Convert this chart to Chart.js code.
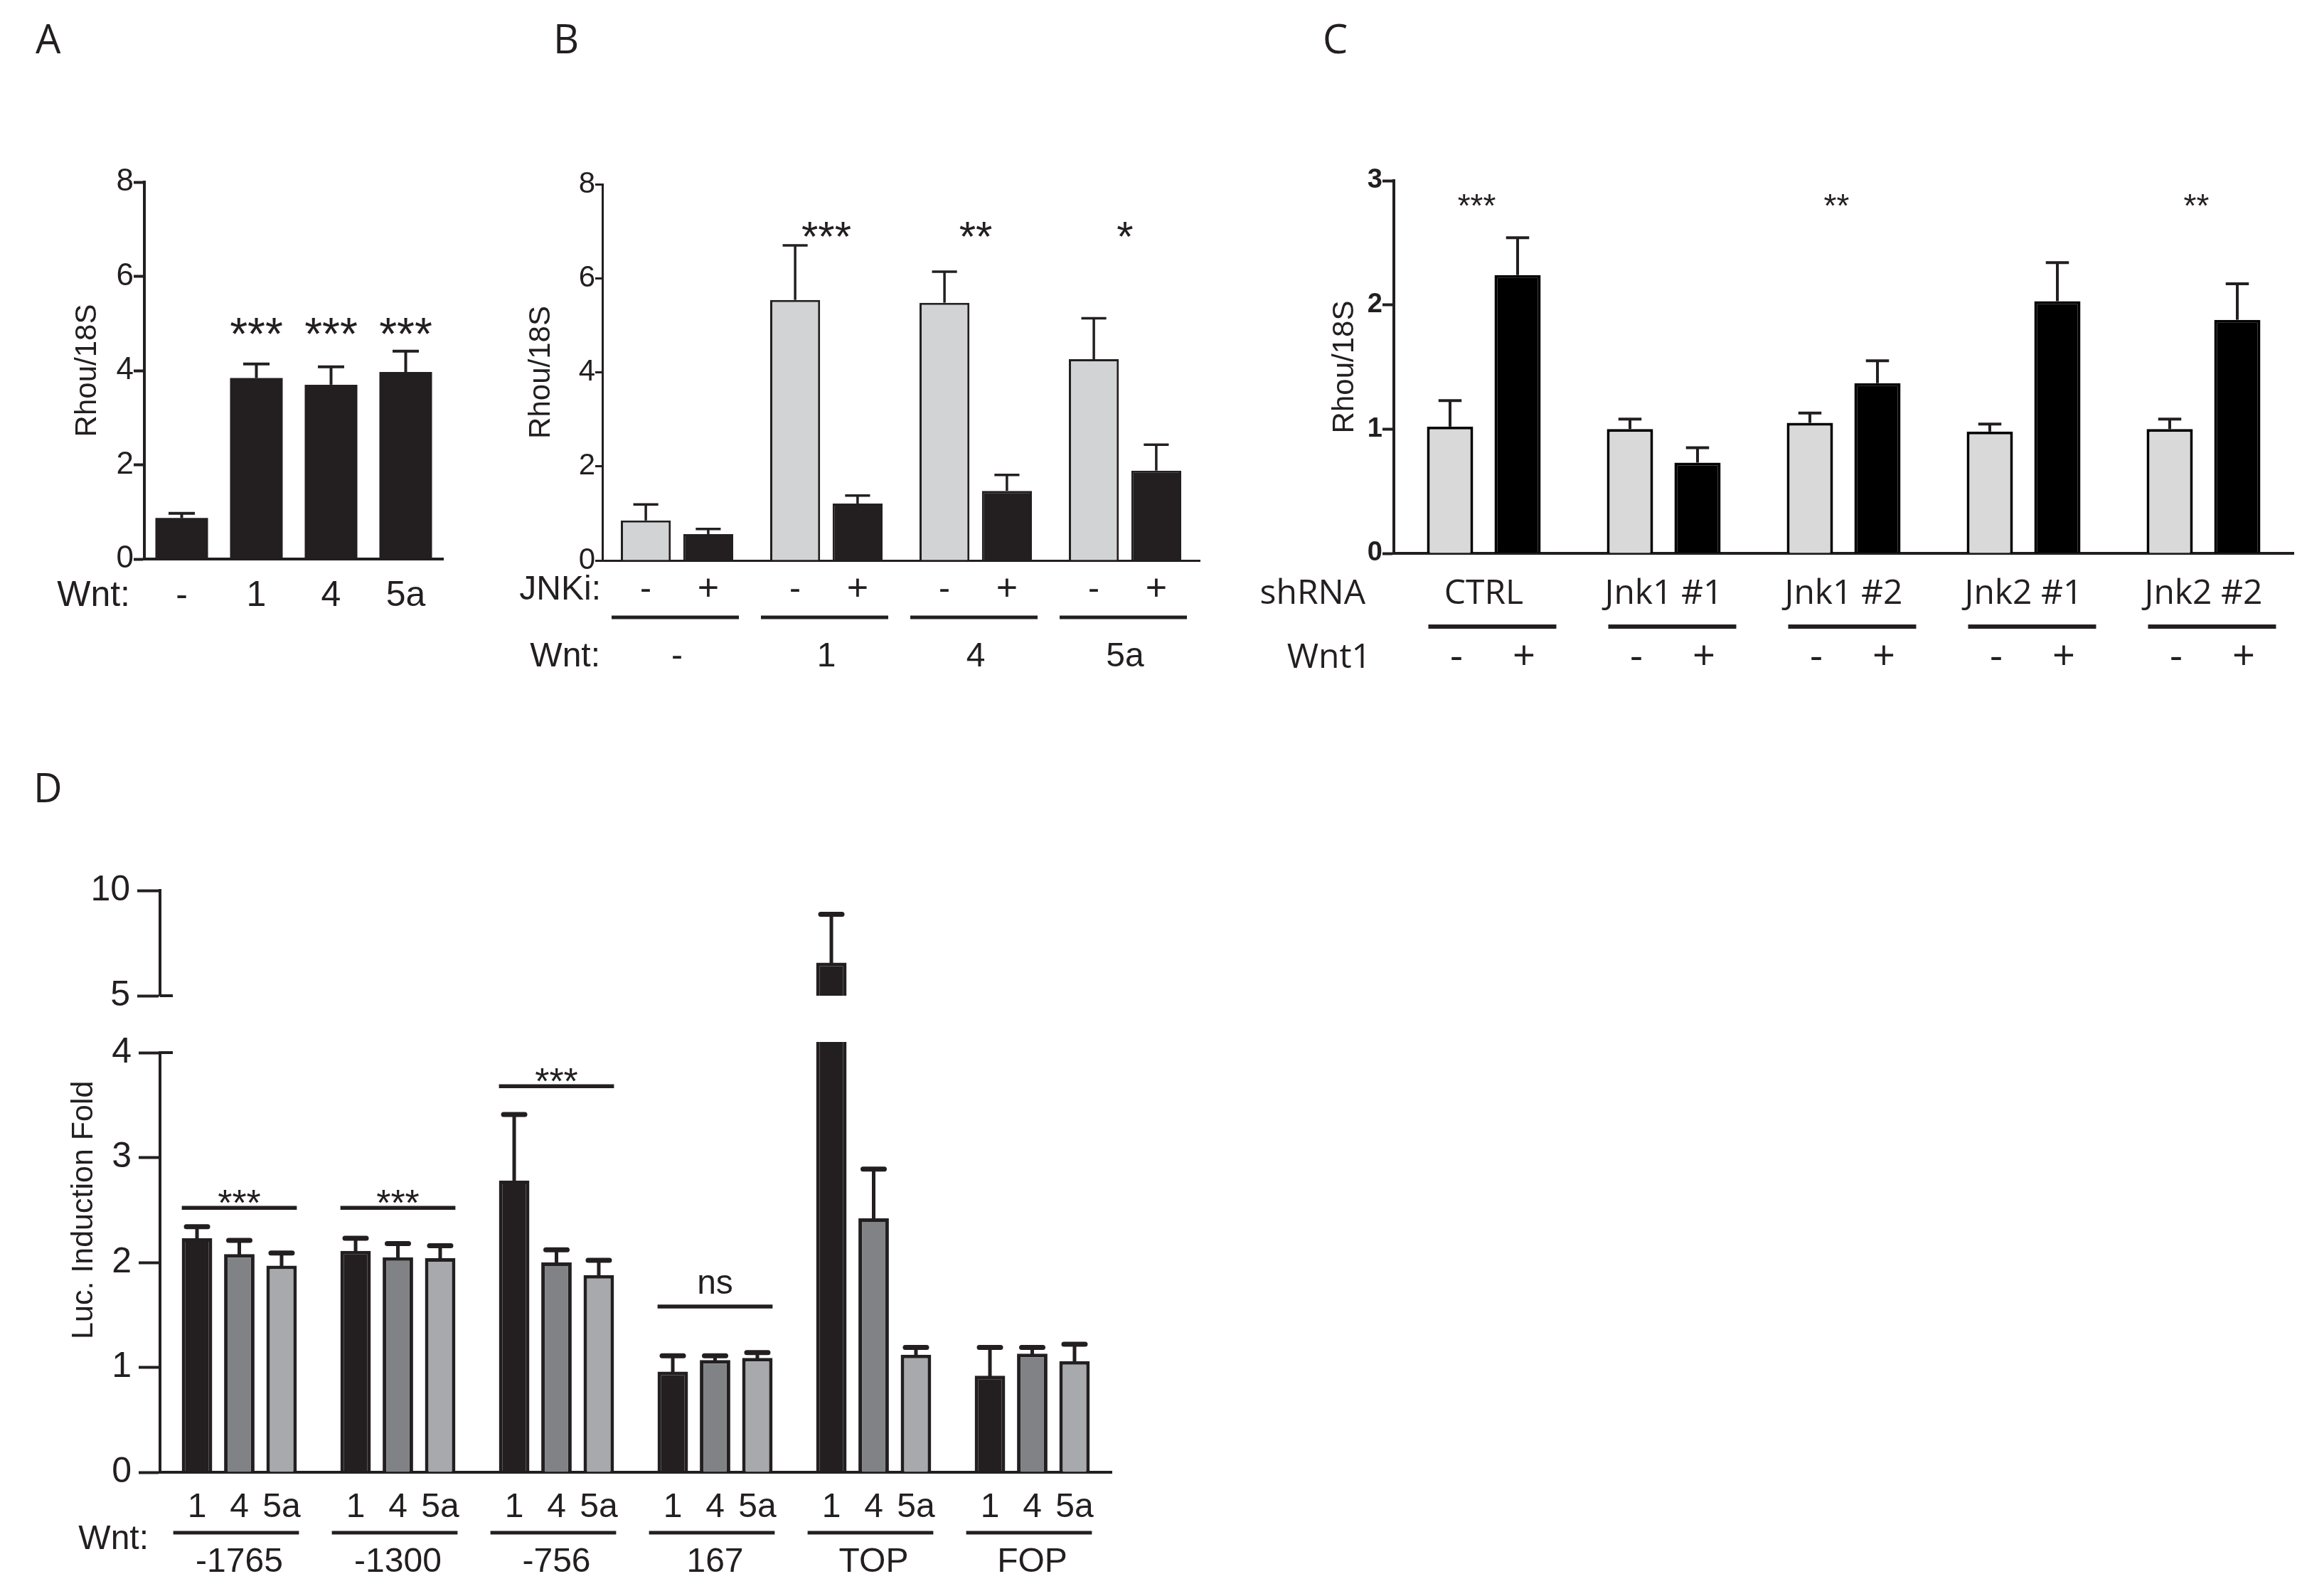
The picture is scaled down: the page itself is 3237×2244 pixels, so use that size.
<!DOCTYPE html>
<html>
<head>
<meta charset="utf-8">
<script src="https://cdn.jsdelivr.net/npm/chart.js@4.4.1/dist/chart.umd.min.js"></script>
<style>
body { margin: 0; background: #fff; width: 3237px; height: 2244px; position: relative; overflow: hidden; }
canvas { position: absolute; }
.tag { position: absolute; font-family: "Open Sans", sans-serif; font-size: 56px; line-height: 1; color: #231f20; }
</style>
</head>
<body>
<div class="tag" style="left:50px;top:25px">A</div>
<div class="tag" style="left:778px;top:25px">B</div>
<div class="tag" style="left:1860px;top:25px">C</div>
<div class="tag" style="left:47px;top:1078px">D</div>
<canvas id="chartA"></canvas>
<canvas id="chartB"></canvas>
<canvas id="chartC"></canvas>
<canvas id="chartDtop"></canvas>
<canvas id="chartD"></canvas>
<script>
// ---- panel A: Rhou/18S with Wnt ----
var wntA = ["-", "1", "4", "5a"];
var rhouA = [0.87, 3.84, 3.70, 3.97];
var rhouAErr = [0.10, 0.30, 0.38, 0.44];
var starsA = ["", "***", "***", "***"];

// ---- panel B: Wnt x JNK inhibitor ----
var wntB = ["-", "1", "4", "5a"];
var jnkiB = ["-", "+"];
var rhouBNoInh = [0.85, 5.54, 5.48, 4.28];
var rhouBNoInhErr = [0.34, 1.16, 0.66, 0.87];
var rhouBInh = [0.56, 1.21, 1.48, 1.91];
var rhouBInhErr = [0.11, 0.17, 0.34, 0.55];
var starsB = ["", "***", "**", "*"];

// ---- panel C: shRNA knockdowns ----
var shrnaC = ["CTRL", "Jnk1 #1", "Jnk1 #2", "Jnk2 #1", "Jnk2 #2"];
var wnt1C = ["-", "+"];
var rhouCNoWnt = [1.02, 1.00, 1.05, 0.98, 1.00];
var rhouCNoWntErr = [0.21, 0.08, 0.08, 0.06, 0.08];
var rhouCWnt1 = [2.24, 0.73, 1.37, 2.03, 1.88];
var rhouCWnt1Err = [0.30, 0.12, 0.18, 0.31, 0.29];
var starsC = ["***", "", "**", "", "**"];

// ---- panel D: luciferase reporters ----
var promD = ["-1765", "-1300", "-756", "167", "TOP", "FOP"];
var wntD = ["1", "4", "5a"];
var lucWnt1 = [2.23, 2.11, 2.78, 0.96, 6.57, 0.92];
var lucWnt1Err = [0.11, 0.12, 0.63, 0.15, 2.30, 0.27];
var lucWnt4 = [2.08, 2.05, 2.00, 1.07, 2.42, 1.13];
var lucWnt4Err = [0.13, 0.13, 0.12, 0.04, 0.47, 0.06];
var lucWnt5a = [1.97, 2.04, 1.88, 1.09, 1.12, 1.06];
var lucWnt5aErr = [0.12, 0.12, 0.14, 0.05, 0.07, 0.16];
var sigD = ["***", "***", "***", "ns", "", ""];
var sigLevelD = [2.52, 2.52, 3.68, 1.58, null, null];

var INK = "#231f20";
var ARIAL = "'Liberation Sans', Arial, sans-serif";
var MYRIAD = "'Open Sans', sans-serif";

// error bars (upper half only), drawn from the y scale
Chart.register({
  id: "errorBars",
  afterDatasetsDraw: function(chart, args, opts) {
    var ctx = chart.ctx, y = chart.scales.y;
    chart.data.datasets.forEach(function(ds, i) {
      if (!ds.errors) return;
      chart.getDatasetMeta(i).data.forEach(function(bar, j) {
        var v = ds.data[j];
        if (v < y.min || v > y.max) return;
        var top = y.getPixelForValue(v + ds.errors[j]);
        var half = bar.width * opts.cap / 2;
        ctx.save();
        ctx.strokeStyle = INK;
        ctx.lineWidth = opts.width;
        ctx.lineCap = opts.lineCap || "butt";
        ctx.beginPath();
        ctx.moveTo(bar.x, bar.y);
        ctx.lineTo(bar.x, top);
        ctx.stroke();
        ctx.lineWidth = opts.capWidth || opts.width;
        ctx.beginPath();
        ctx.moveTo(bar.x - half, top);
        ctx.lineTo(bar.x + half, top);
        ctx.stroke();
        ctx.restore();
      });
    });
  }
});

function txt(ctx, s, x, y, font, align) {
  ctx.save();
  ctx.fillStyle = INK;
  ctx.font = font;
  ctx.textAlign = align || "center";
  ctx.textBaseline = "middle";
  ctx.fillText(s, x, y);
  ctx.restore();
}
// asterisks sit high in the em box, so centre them by hand
function stars(ctx, s, x, yc, size) {
  ctx.save();
  ctx.fillStyle = INK;
  ctx.font = size + "px " + ARIAL;
  ctx.textAlign = "center";
  ctx.textBaseline = "alphabetic";
  ctx.fillText(s, x, yc + 0.58 * size);
  ctx.restore();
}
function hline(ctx, x1, x2, y, w) {
  ctx.save();
  ctx.strokeStyle = INK;
  ctx.lineWidth = w;
  ctx.beginPath();
  ctx.moveTo(x1, y);
  ctx.lineTo(x2, y);
  ctx.stroke();
  ctx.restore();
}
function barAt(chart, d, j) { return chart.getDatasetMeta(d).data[j]; }

// put a canvas on the page so that the chart area lands on `area`
function place(id, box) {
  var c = document.getElementById(id);
  c.width = box[2] - box[0];
  c.height = box[3] - box[1];
  c.style.left = box[0] + "px";
  c.style.top = box[1] + "px";
  c.style.width = c.width + "px";
  c.style.height = c.height + "px";
  return c;
}

function makeChart(id, box, area, o) {
  var c = place(id, box);
  var yTitle = o.yTitle ? {
    display: true, text: o.yTitle, color: INK,
    font: { family: ARIAL, size: o.yTitleSize },
    padding: { top: o.yTitleX - box[0] - o.yTitleSize * 0.6, bottom: 0 }
  } : { display: false };
  return new Chart(c, {
    type: "bar",
    data: { labels: o.labels, datasets: o.datasets },
    options: {
      responsive: false,
      animation: false,
      layout: { padding: { left: 0, top: area[1] - box[1], right: box[2] - area[2], bottom: 0 } },
      plugins: {
        legend: { display: false },
        tooltip: { enabled: false },
        errorBars: o.err
      },
      scales: {
        x: {
          ticks: { display: false },
          grid: { display: false },
          border: { display: o.xLine !== false, color: INK, width: o.lineW },
          afterFit: function(s) { s.height = box[3] - area[3]; }
        },
        y: {
          min: o.yMin, max: o.yMax,
          ticks: { stepSize: o.yStep, color: INK, font: o.tickFont, padding: o.tickPad },
          grid: { display: true, drawOnChartArea: false, drawTicks: true, tickLength: o.tickLen, tickWidth: o.lineW, tickColor: INK },
          border: { display: true, color: INK, width: o.lineW },
          title: yTitle,
          afterFit: function(s) { s.width = area[0] - box[0]; }
        }
      }
    },
    plugins: o.plugins || []
  });
}

// ---------------- A ----------------
makeChart("chartA", [40, 200, 650, 900], [203, 256, 623, 786], {
  labels: wntA,
  datasets: [{ data: rhouA, errors: rhouAErr, backgroundColor: INK, borderWidth: 0, barPercentage: 0.705, categoryPercentage: 1 }],
  yMin: 0, yMax: 8, yStep: 2, lineW: 4, tickLen: 15, tickPad: 0,
  tickFont: { family: ARIAL, size: 44 },
  yTitle: "Rhou/18S", yTitleSize: 42, yTitleX: 123,
  err: { width: 4, cap: 0.5 },
  plugins: [{
    id: "notesA",
    afterDraw: function(chart) {
      var ctx = chart.ctx, x = chart.scales.x, y = chart.scales.y, a = chart.chartArea;
      var f = "50px " + ARIAL;
      wntA.forEach(function(s, j) { txt(ctx, s, x.getPixelForValue(j), a.bottom + 52, f); });
      txt(ctx, "Wnt:", a.left - 20, a.bottom + 52, f, "right");
      starsA.forEach(function(s, j) { if (s) stars(ctx, s, x.getPixelForValue(j), y.getPixelForValue(5.0), 64); });
    }
  }]
});

// ---------------- B ----------------
makeChart("chartB", [690, 200, 1720, 1000], [847, 259, 1687, 788], {
  labels: wntB,
  datasets: [
    { data: rhouBNoInh, errors: rhouBNoInhErr, backgroundColor: "#d1d3d4", borderColor: INK, borderWidth: 3, barPercentage: 0.8, categoryPercentage: 0.836 },
    { data: rhouBInh, errors: rhouBInhErr, backgroundColor: INK, borderColor: INK, borderWidth: 3, barPercentage: 0.8, categoryPercentage: 0.836 }
  ],
  yMin: 0, yMax: 8, yStep: 2, lineW: 3, tickLen: 10, tickPad: 0,
  tickFont: { family: ARIAL, size: 42 },
  yTitle: "Rhou/18S", yTitleSize: 42, yTitleX: 761,
  err: { width: 3.5, cap: 0.5 },
  plugins: [{
    id: "notesB",
    afterDraw: function(chart) {
      var ctx = chart.ctx, x = chart.scales.x, y = chart.scales.y, a = chart.chartArea;
      var f = "48px " + ARIAL;
      wntB.forEach(function(s, j) {
        var l = barAt(chart, 0, j), r = barAt(chart, 1, j);
        txt(ctx, jnkiB[0], l.x, a.bottom + 42, f);
        txt(ctx, jnkiB[1], r.x, a.bottom + 42, "52px " + ARIAL);
        hline(ctx, l.x - l.width / 2 - 13, r.x + r.width / 2 + 8, a.bottom + 80, 5);
        txt(ctx, s, x.getPixelForValue(j), a.bottom + 136, f);
        if (starsB[j]) stars(ctx, starsB[j], x.getPixelForValue(j), y.getPixelForValue(7.1), 60);
      });
      txt(ctx, "JNKi:", a.left - 2, a.bottom + 42, f, "right");
      txt(ctx, "Wnt:", a.left - 3, a.bottom + 136, f, "right");
    }
  }]
});

// ---------------- C ----------------
makeChart("chartC", [1740, 200, 3237, 1000], [1960, 254, 3225, 778], {
  labels: shrnaC,
  datasets: [
    { data: rhouCNoWnt, errors: rhouCNoWntErr, backgroundColor: "#d9d9d9", borderColor: "#000", borderWidth: 4, barPercentage: 0.684, categoryPercentage: 0.751 },
    { data: rhouCWnt1, errors: rhouCWnt1Err, backgroundColor: "#000", borderColor: "#000", borderWidth: 4, barPercentage: 0.684, categoryPercentage: 0.751 }
  ],
  yMin: 0, yMax: 3, yStep: 1, lineW: 4, tickLen: 16, tickPad: 0,
  tickFont: { family: ARIAL, size: 38, weight: "bold" },
  yTitle: "Rhou/18S", yTitleSize: 42, yTitleX: 1891,
  err: { width: 4, cap: 0.5 },
  plugins: [{
    id: "notesC",
    afterDraw: function(chart) {
      var ctx = chart.ctx, x = chart.scales.x, y = chart.scales.y, a = chart.chartArea;
      var f = "48px " + MYRIAD;
      var fs = "56px " + MYRIAD;
      shrnaC.forEach(function(s, j) {
        var l = barAt(chart, 0, j), r = barAt(chart, 1, j);
        txt(ctx, s, x.getPixelForValue(j), a.bottom + 57, f);
        hline(ctx, l.x - l.width / 2 + 2, r.x + r.width / 2 + 22, a.bottom + 103, 6);
        txt(ctx, wnt1C[0], l.x + 9, a.bottom + 147, fs);
        txt(ctx, wnt1C[1], r.x + 9, a.bottom + 147, fs);
        if (starsC[j]) stars(ctx, starsC[j], x.getPixelForValue(j) - 10, y.getPixelForValue(2.86), 46);
      });
      txt(ctx, "shRNA", a.left - 40, a.bottom + 57, f, "right");
      txt(ctx, "Wnt1", a.left - 32, a.bottom + 147, f, "right");
    }
  }]
});

// ---------------- D (broken axis: two charts sharing the x layout) ----------------
function datasetsD(clip) {
  var common = { borderColor: INK, borderWidth: 5, barPercentage: 0.72, categoryPercentage: 0.80, clip: clip };
  return [
    Object.assign({ data: lucWnt1, errors: lucWnt1Err, backgroundColor: INK }, common),
    Object.assign({ data: lucWnt4, errors: lucWnt4Err, backgroundColor: "#808285" }, common),
    Object.assign({ data: lucWnt5a, errors: lucWnt5aErr, backgroundColor: "#a7a9ac" }, common)
  ];
}
var tickExt = function(val) {
  return {
    id: "tickExt",
    afterDraw: function(chart) {
      var a = chart.chartArea, yy = chart.scales.y.getPixelForValue(val);
      hline(chart.ctx, a.left, a.left + 18, yy, 4);
    }
  };
};

makeChart("chartDtop", [80, 1200, 1600, 1440], [225, 1252, 1563, 1400], {
  labels: promD,
  datasets: datasetsD({ left: false, right: false, top: false, bottom: 0 }),
  yMin: 5, yMax: 10, yStep: 5, lineW: 4, tickLen: 32, tickPad: 10,
  tickFont: { family: ARIAL, size: 50 },
  xLine: false,
  err: { width: 5, capWidth: 7, cap: 0.7, lineCap: "round" },
  plugins: [tickExt(5)]
});

makeChart("chartD", [80, 1440, 1600, 2244], [225, 1480, 1563, 2070], {
  labels: promD,
  datasets: datasetsD({ left: false, right: false, top: 15, bottom: false }),
  yMin: 0, yMax: 4, yStep: 1, lineW: 4, tickLen: 30, tickPad: 10,
  tickFont: { family: ARIAL, size: 50 },
  err: { width: 5, capWidth: 7, cap: 0.7, lineCap: "round" },
  plugins: [tickExt(4), {
    id: "notesD",
    afterDraw: function(chart) {
      var ctx = chart.ctx, x = chart.scales.x, y = chart.scales.y, a = chart.chartArea;
      var f = "48px " + ARIAL;
      promD.forEach(function(s, j) {
        var l = barAt(chart, 0, j), r = barAt(chart, 2, j);
        for (var d = 0; d < 3; d++) txt(ctx, wntD[d], barAt(chart, d, j).x, a.bottom + 50, f);
        hline(ctx, l.x - l.width / 2 - 12, r.x + r.width / 2 + 3, a.bottom + 85, 5);
        txt(ctx, s, x.getPixelForValue(j), a.bottom + 127, f);
        if (sigLevelD[j] !== null) {
          var ly = y.getPixelForValue(sigLevelD[j]);
          hline(ctx, l.x - l.width / 2, r.x + r.width / 2, ly, 5.5);
          if (sigD[j] === "ns") txt(ctx, "ns", x.getPixelForValue(j), ly - 31, "48px " + ARIAL);
          else stars(ctx, sigD[j], x.getPixelForValue(j), ly - 19, 52);
        }
      });
      txt(ctx, "Wnt:", a.left - 16, a.bottom + 95, f, "right");
      ctx.save();
      ctx.translate(a.left - 107, y.getPixelForValue(2.5));
      ctx.rotate(-Math.PI / 2);
      txt(ctx, "Luc. Induction Fold", 0, 0, "43px " + ARIAL);
      ctx.restore();
    }
  }]
});
</script>
</body>
</html>
